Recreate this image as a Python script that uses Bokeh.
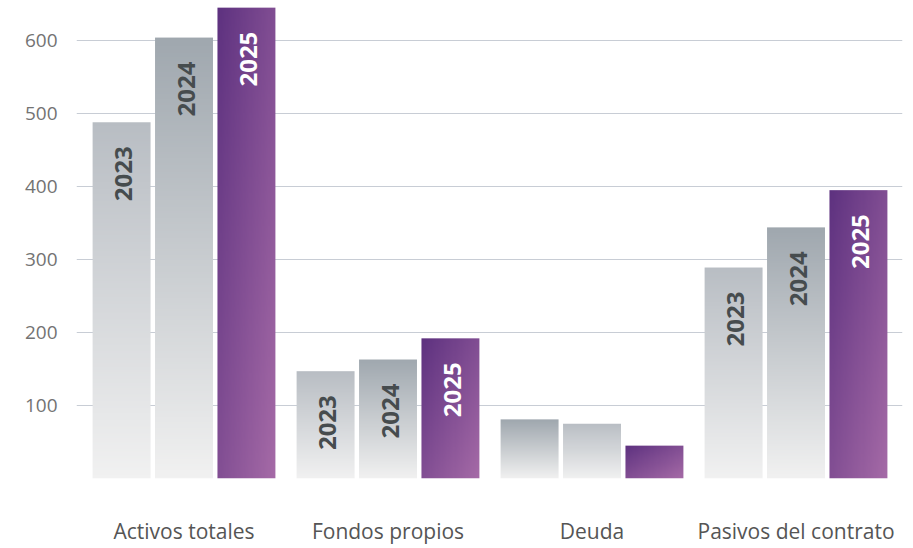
import numpy as np
from bokeh.plotting import figure
from bokeh.models import Range1d, FixedTicker, ColumnDataSource
from bokeh.embed import file_html
from bokeh.resources import INLINE
from bokeh.core.properties import value

# ---- data ----
categories = ["Activos totales", "Fondos propios", "Deuda", "Pasivos del contrato"]
years = ["2023", "2024", "2025"]
v2023 = [488, 147, 81, 289]
v2024 = [604, 163, 75, 344]
v2025 = [645, 192, 45, 395]
y_ticks = [100, 200, 300, 400, 500, 600]

# ---- styles ----
GRAY_DARK_TOP = (0x9f, 0xa7, 0xae)
GRAY_LIGHT_TOP = (0xb8, 0xbd, 0xc3)
GRAY_BOTTOM = (0xf1, 0xf1, 0xf1)
PURPLE_START = (0x5d, 0x31, 0x7f)
PURPLE_END = (0xa6, 0x6b, 0xa7)
BAR_W = 0.284
OFFSETS = [-0.306, 0.0, 0.306]
FONT = "Open Sans"


def grad_img(c0, c1, diagonal, nx=48, ny=200):
    u = (np.arange(nx) + 0.5) / nx
    vt = 1 - (np.arange(ny) + 0.5) / ny  # fraction from top; row 0 is bottom
    U, V = np.meshgrid(u, vt)
    t = (U + V) / 2 if diagonal else V
    img = np.empty((ny, nx), dtype=np.uint32)
    view = img.view(dtype=np.uint8).reshape((ny, nx, 4))
    for k in range(3):
        view[..., k] = np.round(c0[k] + (c1[k] - c0[k]) * t).astype(np.uint8)
    view[..., 3] = 255
    return img


series = [v2023, v2024, v2025]
imgs, xs, ys, dws, dhs = [], [], [], [], []
lx, ly, ltext, lcolor = [], [], [], []
for ci in range(len(categories)):
    gray_max = max(v2023[ci], v2024[ci])
    for si, vals in enumerate(series):
        v = vals[ci]
        left = ci + OFFSETS[si] - BAR_W / 2
        if si == 2:
            img = grad_img(PURPLE_START, PURPLE_END, True)
        else:
            top = GRAY_DARK_TOP if v == gray_max else GRAY_LIGHT_TOP
            img = grad_img(top, GRAY_BOTTOM, False)
        imgs.append(img)
        xs.append(left)
        ys.append(0)
        dws.append(BAR_W)
        dhs.append(v)
        if v >= 100:
            lx.append(ci + OFFSETS[si])
            ly.append(v)
            ltext.append(years[si])
            lcolor.append("#ffffff" if si == 2 else "#464c4e")

p = figure(width=913, height=548, output_backend="svg", toolbar_location=None,
           x_range=Range1d(-0.527, 3.522), y_range=Range1d(0, 654.8),
           min_border_left=76, min_border_right=11, min_border_top=0,
           min_border_bottom=70)
p.outline_line_color = None
p.background_fill_color = "white"

p.image_rgba(image="image", x="x", y="y", dw="dw", dh="dh",
             source=ColumnDataSource(dict(image=imgs, x=xs, y=ys, dw=dws, dh=dhs)))

p.text(x="x", y="y", text="text", text_color="color",
       source=ColumnDataSource(dict(x=lx, y=ly, text=ltext, color=lcolor)),
       angle=np.pi / 2, text_align="right", text_baseline="middle",
       x_offset=2, y_offset=24, text_font=value(FONT), text_font_style="bold",
       text_font_size="24px")

# category axis
p.xaxis.ticker = FixedTicker(ticks=list(range(len(categories))))
p.xaxis.major_label_overrides = {i: c for i, c in enumerate(categories)}
p.xaxis.axis_line_color = None
p.xaxis.major_tick_line_color = None
p.xaxis.minor_tick_line_color = None
p.xaxis.major_tick_out = 0
p.xaxis.major_label_standoff = 38
p.xaxis.major_label_text_font = FONT
p.xaxis.major_label_text_font_size = "21px"
p.xaxis.major_label_text_color = "#555555"
p.xgrid.grid_line_color = None

p.yaxis.ticker = FixedTicker(ticks=y_ticks)
p.yaxis.axis_line_color = None
p.yaxis.major_tick_line_color = None
p.yaxis.minor_tick_line_color = None
p.yaxis.major_tick_out = 0
p.yaxis.major_label_standoff = 19
p.yaxis.major_label_text_font = FONT
p.yaxis.major_label_text_font_size = "19px"
p.yaxis.major_label_text_color = "#737373"
p.ygrid.ticker = FixedTicker(ticks=y_ticks)
p.ygrid.grid_line_color = "#c8cdd5"
p.ygrid.grid_line_width = 1
p.ygrid.level = "underlay"

open("out.html", "w").write(file_html(p, INLINE))
